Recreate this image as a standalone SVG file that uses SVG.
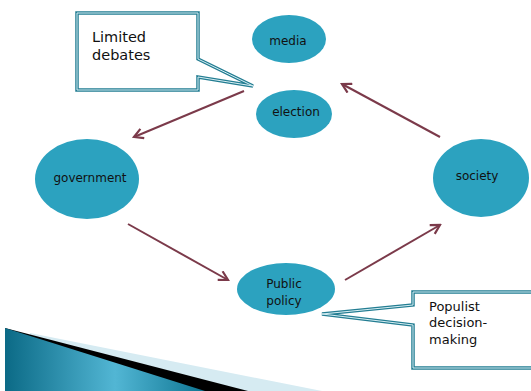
<svg xmlns="http://www.w3.org/2000/svg" width="531" height="391" viewBox="0 0 531 391">
<style>
.node{fill:#2ca2bf}
.lbl{font-family:"DejaVu Sans","Noto Sans",sans-serif;font-size:12px;fill:#111;text-anchor:middle}
.ct{font-family:"DejaVu Sans","Noto Sans",sans-serif;font-size:13px;fill:#111}
.ct2{font-family:"DejaVu Sans","Noto Sans",sans-serif;font-size:14.5px;fill:#111}
.conn{stroke:#7b3a4a;stroke-width:2;fill:none;marker-end:url(#ah)}
.co{fill:#fff;stroke:#237d92;stroke-width:3.5}
.ci{fill:none;stroke:#d8eff4;stroke-width:1}
</style>
<defs>
<marker id="ah" viewBox="0 0 12 12" refX="10" refY="6" markerWidth="6" markerHeight="6" orient="auto" markerUnits="strokeWidth">
<path d="M1,1 L10,6 L1,11" fill="none" stroke="#7b3a4a" stroke-width="2.2"/>
</marker>
<linearGradient id="tg" x1="0" y1="0" x2="1" y2="0">
<stop offset="0" stop-color="#0b6a86"/>
<stop offset="0.55" stop-color="#52b6d4"/>
<stop offset="1" stop-color="#0e7592"/>
</linearGradient>
</defs>
<rect width="531" height="391" fill="#fff"/>
<g id="decor">
<polygon points="30,333 322,391 30,391" fill="#d6ebf2"/>
<polygon points="5,328 248,391 5,391" fill="#000"/>
<polygon points="5,328 205,391 5,391" fill="url(#tg)"/>
</g>
<g id="connectors">
<line class="conn" x1="244" y1="91" x2="134" y2="137"/>
<line class="conn" x1="440" y1="137" x2="342" y2="84"/>
<line class="conn" x1="128" y1="224" x2="228" y2="280"/>
<line class="conn" x1="345" y1="280" x2="440" y2="225"/>
</g>
<g id="media"><ellipse class="node" cx="289" cy="39" rx="37" ry="24"/><text class="lbl" x="288" y="45">media</text></g>
<g id="election"><ellipse class="node" cx="294" cy="114" rx="38" ry="24"/><text class="lbl" x="296" y="116">election</text></g>
<g id="government"><ellipse class="node" cx="87" cy="179" rx="52" ry="40"/><text class="lbl" x="90" y="182">government</text></g>
<g id="society"><ellipse class="node" cx="481" cy="178" rx="48" ry="39"/><text class="lbl" x="477" y="180">society</text></g>
<g id="public-policy"><ellipse class="node" cx="286" cy="289" rx="49" ry="26"/><text class="lbl" x="284" y="288">Public</text><text class="lbl" x="284" y="305">policy</text></g>
<g id="callout-limited">
<path class="co" d="M77,13 H198 V59 L253,86 L198,77 V90 H77 Z"/>
<path class="ci" d="M77,13 H198 V59 L253,86 L198,77 V90 H77 Z"/>
<text class="ct2" x="92" y="42">Limited</text>
<text class="ct2" x="92" y="60">debates</text>
</g>
<g id="callout-populist">
<path class="co" d="M413,292 H540 V368 H413 V325 L322,314 L413,305 Z"/>
<path class="ci" d="M413,292 H540 V368 H413 V325 L322,314 L413,305 Z"/>
<text class="ct" x="429" y="311">Populist</text>
<text class="ct" x="429" y="327">decision-</text>
<text class="ct" x="429" y="344">making</text>
</g>
</svg>
